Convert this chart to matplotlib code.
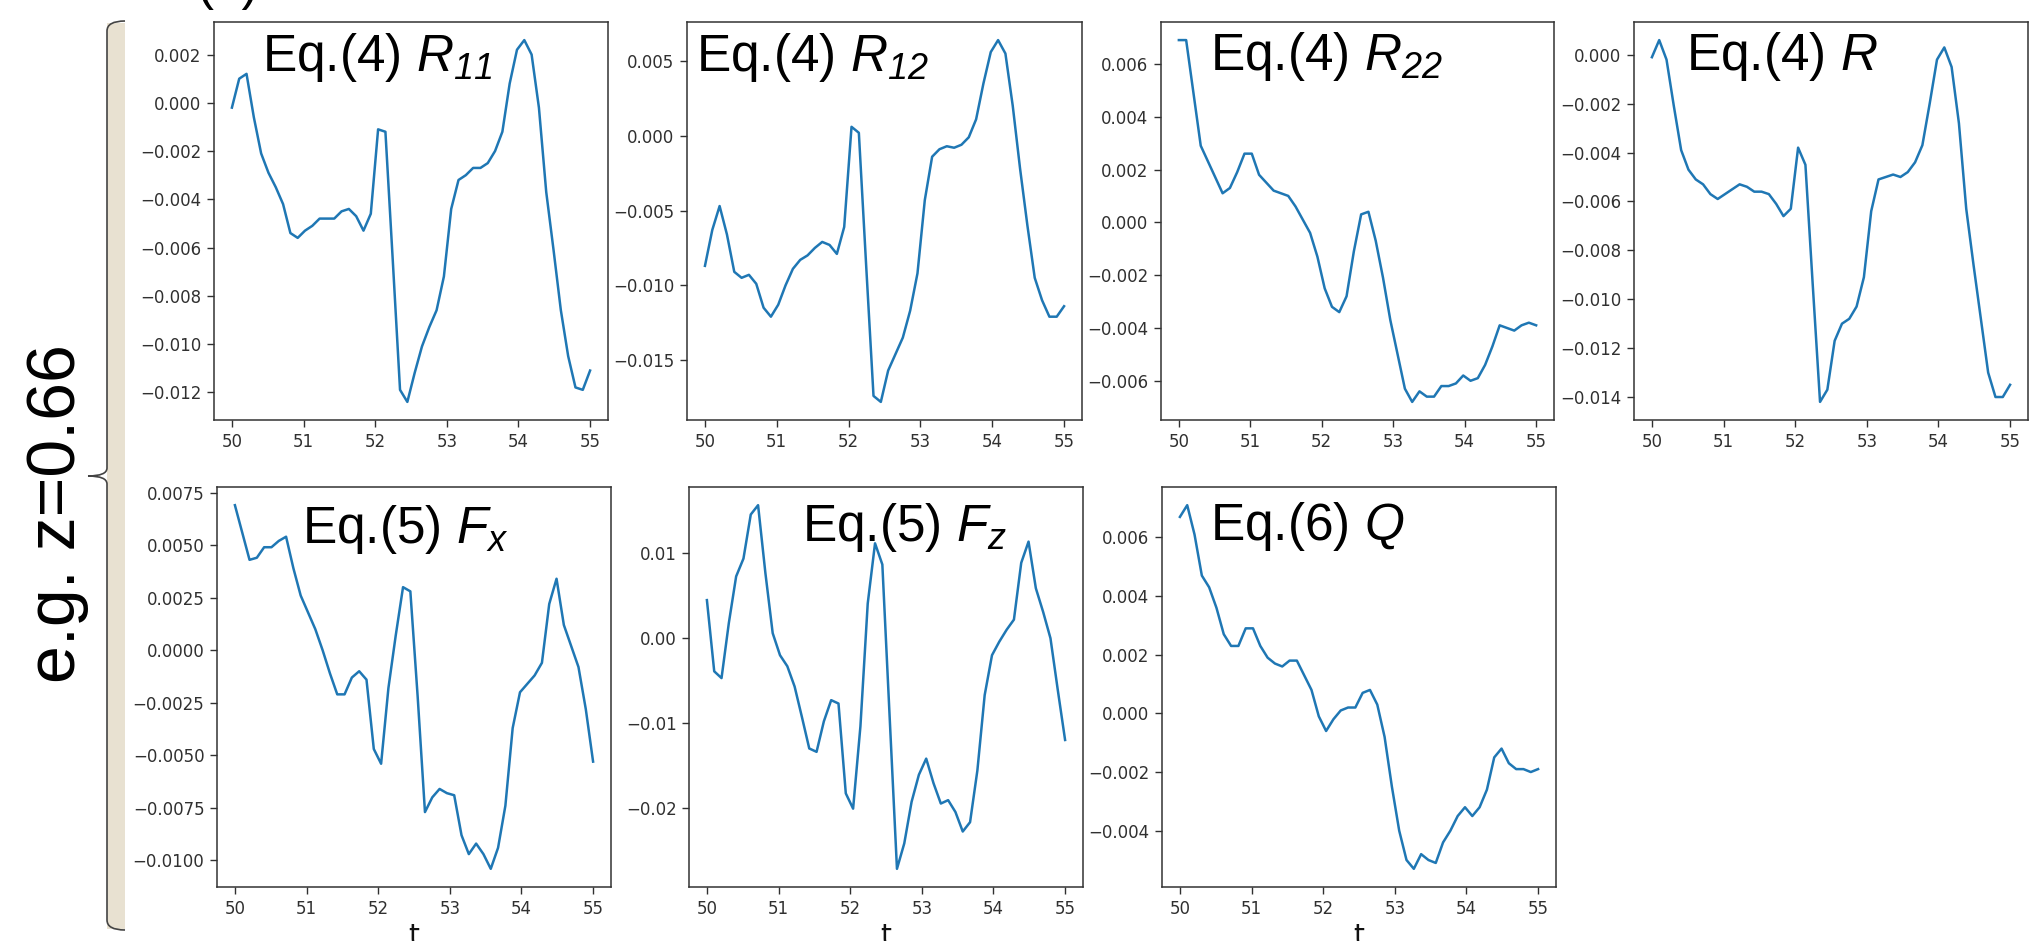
import numpy as np
import matplotlib
matplotlib.use("Agg")
import matplotlib.pyplot as plt
from matplotlib.path import Path
from matplotlib.patches import PathPatch, Rectangle

plt.rcParams['mathtext.fontset'] = 'custom'
plt.rcParams['mathtext.it'] = 'Liberation Sans:italic'
plt.rcParams['mathtext.rm'] = 'Liberation Sans:italic'
plt.rcParams['mathtext.sf'] = 'Liberation Sans:italic'

# ---------------- data ----------------
t_start, t_end = 50, 55

R11 = [-0.0002, 0.0010, 0.0012, -0.0006, -0.0021, -0.0029, -0.0035, -0.0042, -0.0054, -0.0056,
       -0.0053, -0.0051, -0.0048, -0.0048, -0.0048, -0.0045, -0.0044, -0.0047, -0.0053, -0.0046,
       -0.0011, -0.0012, -0.0065, -0.0119, -0.0124, -0.0112, -0.0101, -0.0093, -0.0086, -0.0072,
       -0.0044, -0.0032, -0.0030, -0.0027, -0.0027, -0.0025, -0.0020, -0.0012, 0.0008, 0.0022,
       0.0026, 0.0020, -0.0002, -0.0037, -0.0061, -0.0086, -0.0105, -0.0118, -0.0119, -0.0111]

R12 = [-0.0087, -0.0063, -0.0047, -0.0066, -0.0091, -0.0095, -0.0093, -0.0099, -0.0115, -0.0121,
       -0.0113, -0.0100, -0.0089, -0.0083, -0.0080, -0.0075, -0.0071, -0.0073, -0.0079, -0.0061,
       0.0006, 0.0002, -0.0087, -0.0174, -0.0178, -0.0157, -0.0146, -0.0135, -0.0117, -0.0092,
       -0.0043, -0.0014, -0.0009, -0.0007, -0.0008, -0.0006, -0.0001, 0.0011, 0.0035, 0.0056,
       0.0064, 0.0055, 0.0020, -0.0022, -0.0060, -0.0095, -0.0110, -0.0121, -0.0121, -0.0114]

R22 = [0.0069, 0.0069, 0.0049, 0.0029, 0.0023, 0.0017, 0.0011, 0.0013, 0.0019, 0.0026,
       0.0026, 0.0018, 0.0015, 0.0012, 0.0011, 0.0010, 0.0006, 0.0001, -0.0004, -0.0013,
       -0.0025, -0.0032, -0.0034, -0.0028, -0.0011, 0.0003, 0.0004, -0.0007, -0.0021, -0.0037,
       -0.0050, -0.0063, -0.0068, -0.0064, -0.0066, -0.0066, -0.0062, -0.0062, -0.0061, -0.0058,
       -0.0060, -0.0059, -0.0054, -0.0047, -0.0039, -0.0040, -0.0041, -0.0039, -0.0038, -0.0039]

R = [-0.0001, 0.0006, -0.0002, -0.0021, -0.0039, -0.0047, -0.0051, -0.0053, -0.0057, -0.0059,
     -0.0057, -0.0055, -0.0053, -0.0054, -0.0056, -0.0056, -0.0057, -0.0061, -0.0066, -0.0063,
     -0.0038, -0.0045, -0.0094, -0.0142, -0.0137, -0.0117, -0.0110, -0.0108, -0.0103, -0.0091,
     -0.0064, -0.0051, -0.0050, -0.0049, -0.0050, -0.0048, -0.0044, -0.0037, -0.0020, -0.0002,
     0.0003, -0.0005, -0.0028, -0.0063, -0.0086, -0.0108, -0.0130, -0.0140, -0.0140, -0.0135]

Fx = [0.0069, 0.0056, 0.0043, 0.0044, 0.0049, 0.0049, 0.0052, 0.0054, 0.0039, 0.0026,
      0.0018, 0.0010, 0.0000, -0.0011, -0.0021, -0.0021, -0.0013, -0.0010, -0.0014, -0.0047,
      -0.0054, -0.0018, 0.0007, 0.0030, 0.0028, -0.0022, -0.0077, -0.0070, -0.0066, -0.0068,
      -0.0069, -0.0088, -0.0097, -0.0092, -0.0097, -0.0104, -0.0094, -0.0074, -0.0037, -0.0020,
      -0.0016, -0.0012, -0.0006, 0.0022, 0.0034, 0.0012, 0.0002, -0.0008, -0.0028, -0.0053]

Fz = [0.0045, -0.0039, -0.0047, 0.0018, 0.0073, 0.0094, 0.0146, 0.0157, 0.0077, 0.0006,
      -0.0020, -0.0033, -0.0057, -0.0093, -0.0130, -0.0134, -0.0098, -0.0073, -0.0077, -0.0183,
      -0.0201, -0.0104, 0.0041, 0.0112, 0.0087, -0.0093, -0.0272, -0.0242, -0.0193, -0.0161,
      -0.0142, -0.0171, -0.0195, -0.0191, -0.0205, -0.0228, -0.0217, -0.0156, -0.0067, -0.0020,
      -0.0004, 0.0010, 0.0022, 0.0089, 0.0114, 0.0059, 0.0031, 0.0000, -0.0061, -0.0120]

Q = [0.0067, 0.0071, 0.0061, 0.0047, 0.0043, 0.0036, 0.0027, 0.0023, 0.0023, 0.0029,
     0.0029, 0.0023, 0.0019, 0.0017, 0.0016, 0.0018, 0.0018, 0.0013, 0.0008, -0.0001,
     -0.0006, -0.0002, 0.0001, 0.0002, 0.0002, 0.0007, 0.0008, 0.0003, -0.0008, -0.0025,
     -0.0040, -0.0050, -0.0053, -0.0048, -0.0050, -0.0051, -0.0044, -0.0040, -0.0035, -0.0032,
     -0.0035, -0.0032, -0.0026, -0.0015, -0.0012, -0.0017, -0.0019, -0.0019, -0.0020, -0.0019]

titles = [r"Eq.(4) $R_{11}$", r"Eq.(4) $R_{12}$", r"Eq.(4) $R_{22}$", r"Eq.(4) $R$",
          r"Eq.(5) $F_x$", r"Eq.(5) $F_z$", r"Eq.(6) $Q$"]
series = [R11, R12, R22, R, Fx, Fz, Q]
side_label = "e.g. z=0.66"
panel_tag = "(a)"
xlabel = "t"

# ---------------- layout (pixels of a 2038x941 canvas) ----------------
W, H = 2038, 941
fig = plt.figure(figsize=(W / 100, H / 100), dpi=100)

# (left, right, top, bottom) in pixels
boxes = [(214, 608, 22, 420), (687, 1082, 22, 420), (1161, 1554, 22, 420), (1634, 2028, 22, 420),
         (217, 611, 487, 887), (689, 1083, 487, 887), (1162, 1556, 487, 887)]
# title anchor (left x, baseline y) in pixels
title_pos = [(262, 71), (696, 71), (1210, 70), (1686, 70),
             (302, 543), (802, 541), (1210, 540)]

line_color = '#1f77b4'
tick_color = '#303030'

for i, (vals, box, ttl, tp) in enumerate(zip(series, boxes, titles, title_pos)):
    l, r, tp_, bt = box
    ax = fig.add_axes([l / W, 1 - bt / H, (r - l) / W, (bt - tp_) / H])
    tt = np.linspace(t_start, t_end, len(vals))
    ax.plot(tt, vals, color=line_color, lw=1.8)
    ax.set_xticks([50, 51, 52, 53, 54, 55])
    ax.tick_params(labelsize=12, length=5, width=1.0, colors=tick_color, pad=4)
    for sp in ax.spines.values():
        sp.set_linewidth(1.1)
        sp.set_color('#333333')
    if i >= 4:
        ax.set_xlabel(xlabel, fontsize=20, labelpad=3, color='#111111')
    fig.text(tp[0] / W, 1 - tp[1] / H, ttl, fontsize=37, family='Liberation Sans',
             ha='left', va='baseline', color='black')

# ---------------- left brace and label ----------------
def P(x, y):
    return (x / W, 1 - y / H)

fig.patches.append(Rectangle(P(107, 929), 18 / W, 906 / H, transform=fig.transFigure,
                             facecolor='#E8E1D1', edgecolor='none', zorder=0))
verts = [P(125, 21), P(107, 21), P(107, 31),
         P(107, 468),
         P(107, 476), P(88, 476),
         P(107, 476), P(107, 484),
         P(107, 920),
         P(107, 930), P(125, 930)]
codes = [Path.MOVETO, Path.CURVE3, Path.CURVE3,
         Path.LINETO,
         Path.CURVE3, Path.CURVE3,
         Path.CURVE3, Path.CURVE3,
         Path.LINETO,
         Path.CURVE3, Path.CURVE3]
fig.patches.append(PathPatch(Path(verts, codes), transform=fig.transFigure,
                             facecolor='none', edgecolor='#444444', lw=1.2, zorder=1))

fig.text(57 / W, 1 - 514 / H, side_label, rotation=90, fontsize=49,
         family='Liberation Sans', ha='center', va='center', color='black')
fig.text(197 / W, 1 + 1 / H, panel_tag, fontsize=37, family='Liberation Sans',
         ha='left', va='baseline', color='black')

fig.savefig('out.png', dpi=100)
